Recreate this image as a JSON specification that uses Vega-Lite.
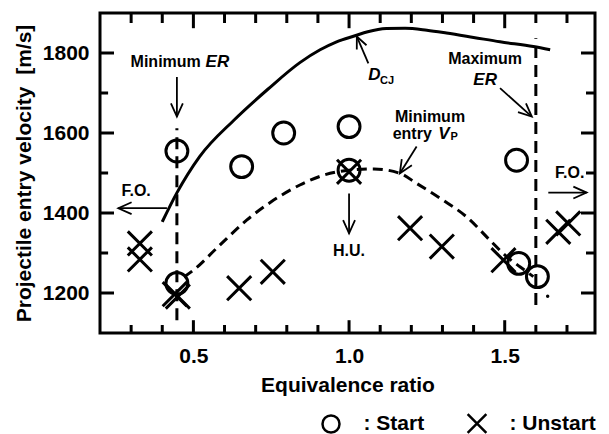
{
"$schema": "https://vega.github.io/schema/vega-lite/v6.json",
"width": 495,
"height": 320,
"autosize": {"type": "none"},
"padding": {"left": 100, "top": 13, "right": 14, "bottom": 101},
"background": "white",
"config": {
  "view": {"stroke": "black", "strokeWidth": 3},
  "font": "Liberation Sans",
  "axis": {"grid": false, "domain": false, "ticks": false, "tickSize": 0, "labelColor": "black", "titleColor": "black", "labelFont": "Liberation Sans", "titleFont": "Liberation Sans", "labelFontWeight": "bold", "titleFontWeight": "bold", "labelFontSize": 21, "titleFontSize": 21},
  "text": {"font": "Liberation Sans", "fontWeight": "bold", "color": "black"}
},
"datasets": {
  "pts": [
    {"er": 0.447, "v": 1555, "run": "Start"},
    {"er": 0.655, "v": 1516, "run": "Start"},
    {"er": 0.79, "v": 1600, "run": "Start"},
    {"er": 1.0, "v": 1616, "run": "Start"},
    {"er": 1.0, "v": 1507, "run": "Start"},
    {"er": 1.538, "v": 1532, "run": "Start"},
    {"er": 1.545, "v": 1274, "run": "Start"},
    {"er": 1.605, "v": 1241, "run": "Start"},
    {"er": 0.447, "v": 1224, "run": "Start"},
    {"er": 0.328, "v": 1324, "run": "Unstart"},
    {"er": 0.328, "v": 1284, "run": "Unstart"},
    {"er": 0.44, "v": 1197, "run": "Unstart"},
    {"er": 0.45, "v": 1191, "run": "Unstart"},
    {"er": 0.647, "v": 1212, "run": "Unstart"},
    {"er": 0.755, "v": 1253, "run": "Unstart"},
    {"er": 1.0, "v": 1503, "run": "Unstart"},
    {"er": 1.196, "v": 1362, "run": "Unstart"},
    {"er": 1.298, "v": 1316, "run": "Unstart"},
    {"er": 1.496, "v": 1282, "run": "Unstart"},
    {"er": 1.672, "v": 1353, "run": "Unstart"},
    {"er": 1.704, "v": 1374, "run": "Unstart"}
  ],
  "dcj": [
    {"er": 0.40, "v": 1378}, {"er": 0.446, "v": 1449}, {"er": 0.52, "v": 1541},
    {"er": 0.63, "v": 1632}, {"er": 0.74, "v": 1710}, {"er": 0.842, "v": 1776},
    {"er": 0.907, "v": 1808}, {"er": 0.96, "v": 1828}, {"er": 1.019, "v": 1843},
    {"er": 1.06, "v": 1853}, {"er": 1.12, "v": 1861}, {"er": 1.18, "v": 1862},
    {"er": 1.25, "v": 1857}, {"er": 1.313, "v": 1850}, {"er": 1.40, "v": 1839},
    {"er": 1.485, "v": 1828}, {"er": 1.592, "v": 1816}, {"er": 1.646, "v": 1808}
  ],
  "minvp": [
    {"er": 0.47, "v": 1240}, {"er": 0.5, "v": 1257}, {"er": 0.58, "v": 1316},
    {"er": 0.671, "v": 1382}, {"er": 0.75, "v": 1428}, {"er": 0.842, "v": 1470},
    {"er": 0.92, "v": 1495}, {"er": 1.0, "v": 1507}, {"er": 1.08, "v": 1510},
    {"er": 1.164, "v": 1499}, {"er": 1.217, "v": 1474}, {"er": 1.3, "v": 1433},
    {"er": 1.378, "v": 1390}, {"er": 1.45, "v": 1334}, {"er": 1.506, "v": 1291},
    {"er": 1.55, "v": 1265}, {"er": 1.592, "v": 1241}
  ],
  "limits": [
    {"er": 0.447, "v1": 1132, "v2": 1612},
    {"er": 1.6, "v1": 1170, "v2": 1837}
  ],
  "arrows": [
    {"name": "minER", "x1": 0.447, "v1": 1740, "x2": 0.447, "v2": 1641},
    {"name": "FOL", "x1": 0.415, "v1": 1412, "x2": 0.259, "v2": 1412},
    {"name": "DCJ", "x1": 1.062, "v1": 1774, "x2": 1.025, "v2": 1841},
    {"name": "maxER", "x1": 1.485, "v1": 1712, "x2": 1.587, "v2": 1641},
    {"name": "minVp", "x1": 1.217, "v1": 1566, "x2": 1.163, "v2": 1499},
    {"name": "HU", "x1": 1.0, "v1": 1449, "x2": 1.0, "v2": 1349},
    {"name": "FOR", "x1": 1.64, "v1": 1451, "x2": 1.763, "v2": 1451}
  ],
  "axisticks": [
    {"x1": 0.3, "x2": 0.3, "v1": 1102, "v2": 1120}, {"x1": 0.4, "x2": 0.4, "v1": 1102, "v2": 1120},
    {"x1": 0.5, "x2": 0.5, "v1": 1102, "v2": 1132}, {"x1": 0.6, "x2": 0.6, "v1": 1102, "v2": 1120},
    {"x1": 0.7, "x2": 0.7, "v1": 1102, "v2": 1120}, {"x1": 0.8, "x2": 0.8, "v1": 1102, "v2": 1120},
    {"x1": 0.9, "x2": 0.9, "v1": 1102, "v2": 1120}, {"x1": 1.0, "x2": 1.0, "v1": 1102, "v2": 1132},
    {"x1": 1.1, "x2": 1.1, "v1": 1102, "v2": 1120}, {"x1": 1.2, "x2": 1.2, "v1": 1102, "v2": 1120},
    {"x1": 1.3, "x2": 1.3, "v1": 1102, "v2": 1120}, {"x1": 1.4, "x2": 1.4, "v1": 1102, "v2": 1120},
    {"x1": 1.5, "x2": 1.5, "v1": 1102, "v2": 1132}, {"x1": 1.6, "x2": 1.6, "v1": 1102, "v2": 1120},
    {"x1": 1.7, "x2": 1.7, "v1": 1102, "v2": 1120},
    {"x1": 0.3, "x2": 0.3, "v1": 1898, "v2": 1875}, {"x1": 0.4, "x2": 0.4, "v1": 1898, "v2": 1875},
    {"x1": 0.5, "x2": 0.5, "v1": 1898, "v2": 1862}, {"x1": 0.6, "x2": 0.6, "v1": 1898, "v2": 1875},
    {"x1": 0.7, "x2": 0.7, "v1": 1898, "v2": 1875}, {"x1": 0.8, "x2": 0.8, "v1": 1898, "v2": 1875},
    {"x1": 0.9, "x2": 0.9, "v1": 1898, "v2": 1875}, {"x1": 1.0, "x2": 1.0, "v1": 1898, "v2": 1862},
    {"x1": 1.1, "x2": 1.1, "v1": 1898, "v2": 1875}, {"x1": 1.2, "x2": 1.2, "v1": 1898, "v2": 1875},
    {"x1": 1.3, "x2": 1.3, "v1": 1898, "v2": 1875}, {"x1": 1.4, "x2": 1.4, "v1": 1898, "v2": 1875},
    {"x1": 1.5, "x2": 1.5, "v1": 1898, "v2": 1862}, {"x1": 1.6, "x2": 1.6, "v1": 1898, "v2": 1875},
    {"x1": 1.7, "x2": 1.7, "v1": 1898, "v2": 1875},
    {"x1": 0.203, "x2": 0.245, "v1": 1200, "v2": 1200}, {"x1": 0.203, "x2": 0.226, "v1": 1300, "v2": 1300},
    {"x1": 0.203, "x2": 0.245, "v1": 1400, "v2": 1400}, {"x1": 0.203, "x2": 0.226, "v1": 1500, "v2": 1500},
    {"x1": 0.203, "x2": 0.245, "v1": 1600, "v2": 1600}, {"x1": 0.203, "x2": 0.226, "v1": 1700, "v2": 1700},
    {"x1": 0.203, "x2": 0.245, "v1": 1800, "v2": 1800},
    {"x1": 1.787, "x2": 1.745, "v1": 1200, "v2": 1200}, {"x1": 1.787, "x2": 1.761, "v1": 1300, "v2": 1300},
    {"x1": 1.787, "x2": 1.745, "v1": 1400, "v2": 1400}, {"x1": 1.787, "x2": 1.761, "v1": 1500, "v2": 1500},
    {"x1": 1.787, "x2": 1.745, "v1": 1600, "v2": 1600}, {"x1": 1.787, "x2": 1.761, "v1": 1700, "v2": 1700},
    {"x1": 1.787, "x2": 1.745, "v1": 1800, "v2": 1800}
  ],
  "notes": [
    {"er": 0.411, "v": 1777, "label": "Minimum"},
    {"er": 1.437, "v": 1785, "label": "Maximum"},
    {"er": 1.26, "v": 1640, "label": "Minimum"},
    {"er": 1.203, "v": 1597, "label": "entry"},
    {"er": 0.316, "v": 1455, "label": "F.O."},
    {"er": 1.709, "v": 1501, "label": "F.O."},
    {"er": 1.0, "v": 1306, "label": "H.U."}
  ],
  "italic": [
    {"er": 0.577, "v": 1777, "label": "ER"},
    {"er": 1.437, "v": 1732, "label": "ER"},
    {"er": 1.081, "v": 1746, "label": "D"},
    {"er": 1.305, "v": 1597, "label": "V"}
  ],
  "subs": [
    {"er": 1.122, "v": 1731, "label": "CJ"},
    {"er": 1.338, "v": 1591, "label": "P"}
  ],
  "dot": [{"er": 1.638, "v": 1192}]
},
"layer": [
  {
    "data": {"name": "dcj"},
    "mark": {"type": "line", "color": "black", "strokeWidth": 3, "interpolate": "monotone"},
    "encoding": {
      "x": {"field": "er", "type": "quantitative", "scale": {"domain": [0.2, 1.79], "nice": false, "zero": false},
            "axis": {"orient": "bottom", "values": [0.5, 1, 1.5], "format": ".1f", "ticks": false, "tickSize": 0, "labelPadding": 12, "title": "Equivalence ratio", "titlePadding": 8}},
      "y": {"field": "v", "type": "quantitative", "scale": {"domain": [1100, 1900], "nice": false, "zero": false},
            "axis": {"orient": "left", "values": [1200, 1400, 1600, 1800], "format": "d", "ticks": false, "tickSize": 0, "labelPadding": 11, "title": "Projectile entry velocity \u00a0[m/s]", "titlePadding": 8}}
    }
  },
  {
    "data": {"name": "minvp"},
    "mark": {"type": "line", "color": "black", "strokeWidth": 3, "strokeDash": [10, 6], "interpolate": "monotone"},
    "encoding": {
      "x": {"field": "er", "type": "quantitative", "scale": {"domain": [0.2, 1.79], "nice": false, "zero": false}, "axis": null},
      "y": {"field": "v", "type": "quantitative", "scale": {"domain": [1100, 1900], "nice": false, "zero": false}, "axis": null}
    }
  },
  {
    "data": {"name": "limits"},
    "mark": {"type": "rule", "color": "black", "strokeWidth": 3, "strokeDash": [12, 7]},
    "encoding": {
      "x": {"field": "er", "type": "quantitative", "scale": {"domain": [0.2, 1.79], "nice": false, "zero": false}, "axis": null},
      "y": {"field": "v1", "type": "quantitative", "scale": {"domain": [1100, 1900], "nice": false, "zero": false}, "axis": null},
      "y2": {"field": "v2"}
    }
  },
  {
    "data": {"name": "pts"},
    "mark": {"type": "point", "filled": false, "color": "black", "strokeWidth": 3, "size": 480, "opacity": 1},
    "encoding": {
      "x": {"field": "er", "type": "quantitative", "scale": {"domain": [0.2, 1.79], "nice": false, "zero": false}, "axis": null},
      "y": {"field": "v", "type": "quantitative", "scale": {"domain": [1100, 1900], "nice": false, "zero": false}, "axis": null},
      "shape": {"field": "run", "type": "nominal",
                "scale": {"domain": ["Start", "Unstart"], "range": ["circle", "M-1.1,-1.1L1.1,1.1M-1.1,1.1L1.1,-1.1"]},
                "legend": {"orient": "none", "legendX": 220.5, "legendY": 400, "direction": "horizontal", "title": null,
                           "labelExpr": "': ' + datum.label", "labelFont": "Liberation Sans", "labelFontWeight": "bold", "labelFontSize": 21, "labelColor": "black",
                           "symbolSize": 289, "symbolStrokeWidth": 2.5, "symbolStrokeColor": "black", "symbolFillColor": "transparent",
                           "labelOffset": 22, "columnPadding": 38}}
    }
  },
  {
    "data": {"name": "arrows"},
    "mark": {"type": "rule", "color": "black", "strokeWidth": 1.8},
    "encoding": {
      "x": {"field": "x1", "type": "quantitative", "scale": {"domain": [0.2, 1.79], "nice": false, "zero": false}, "axis": null},
      "y": {"field": "v1", "type": "quantitative", "scale": {"domain": [1100, 1900], "nice": false, "zero": false}, "axis": null},
      "x2": {"field": "x2"},
      "y2": {"field": "v2"}
    }
  },
  {
    "data": {"name": "axisticks"},
    "mark": {"type": "rule", "color": "#000000", "strokeWidth": 3, "opacity": 1},
    "encoding": {
      "x": {"field": "x1", "type": "quantitative", "scale": {"domain": [0.2, 1.79], "nice": false, "zero": false}, "axis": null},
      "y": {"field": "v1", "type": "quantitative", "scale": {"domain": [1100, 1900], "nice": false, "zero": false}, "axis": null},
      "x2": {"field": "x2"},
      "y2": {"field": "v2"}
    }
  },
  {
    "data": {"name": "arrows"},
    "transform": [{"filter": "datum.name == 'minER' || datum.name == 'HU'"}],
    "mark": {"type": "point", "filled": false, "color": "black", "strokeWidth": 1.8, "size": 700, "opacity": 1, "shape": "M-0.45,1L0,0L0.45,1", "angle": 180},
    "encoding": {
      "x": {"field": "x2", "type": "quantitative", "scale": {"domain": [0.2, 1.79], "nice": false, "zero": false}, "axis": null},
      "y": {"field": "v2", "type": "quantitative", "scale": {"domain": [1100, 1900], "nice": false, "zero": false}, "axis": null}
    }
  },
  {
    "data": {"name": "arrows"},
    "transform": [{"filter": "datum.name == 'FOL'"}],
    "mark": {"type": "point", "filled": false, "color": "black", "strokeWidth": 1.8, "size": 700, "opacity": 1, "shape": "M-0.45,1L0,0L0.45,1", "angle": 270},
    "encoding": {
      "x": {"field": "x2", "type": "quantitative", "scale": {"domain": [0.2, 1.79], "nice": false, "zero": false}, "axis": null},
      "y": {"field": "v2", "type": "quantitative", "scale": {"domain": [1100, 1900], "nice": false, "zero": false}, "axis": null}
    }
  },
  {
    "data": {"name": "arrows"},
    "transform": [{"filter": "datum.name == 'FOR'"}],
    "mark": {"type": "point", "filled": false, "color": "black", "strokeWidth": 1.8, "size": 700, "opacity": 1, "shape": "M-0.45,1L0,0L0.45,1", "angle": 90},
    "encoding": {
      "x": {"field": "x2", "type": "quantitative", "scale": {"domain": [0.2, 1.79], "nice": false, "zero": false}, "axis": null},
      "y": {"field": "v2", "type": "quantitative", "scale": {"domain": [1100, 1900], "nice": false, "zero": false}, "axis": null}
    }
  },
  {
    "data": {"name": "arrows"},
    "transform": [{"filter": "datum.name == 'DCJ'"}],
    "mark": {"type": "point", "filled": false, "color": "black", "strokeWidth": 1.8, "size": 560, "opacity": 1, "shape": "M-0.45,1L0,0L0.45,1", "angle": 336},
    "encoding": {
      "x": {"field": "x2", "type": "quantitative", "scale": {"domain": [0.2, 1.79], "nice": false, "zero": false}, "axis": null},
      "y": {"field": "v2", "type": "quantitative", "scale": {"domain": [1100, 1900], "nice": false, "zero": false}, "axis": null}
    }
  },
  {
    "data": {"name": "arrows"},
    "transform": [{"filter": "datum.name == 'maxER'"}],
    "mark": {"type": "point", "filled": false, "color": "black", "strokeWidth": 1.8, "size": 700, "opacity": 1, "shape": "M-0.45,1L0,0L0.45,1", "angle": 132},
    "encoding": {
      "x": {"field": "x2", "type": "quantitative", "scale": {"domain": [0.2, 1.79], "nice": false, "zero": false}, "axis": null},
      "y": {"field": "v2", "type": "quantitative", "scale": {"domain": [1100, 1900], "nice": false, "zero": false}, "axis": null}
    }
  },
  {
    "data": {"name": "arrows"},
    "transform": [{"filter": "datum.name == 'minVp'"}],
    "mark": {"type": "point", "filled": false, "color": "black", "strokeWidth": 1.8, "size": 700, "opacity": 1, "shape": "M-0.45,1L0,0L0.45,1", "angle": 212},
    "encoding": {
      "x": {"field": "x2", "type": "quantitative", "scale": {"domain": [0.2, 1.79], "nice": false, "zero": false}, "axis": null},
      "y": {"field": "v2", "type": "quantitative", "scale": {"domain": [1100, 1900], "nice": false, "zero": false}, "axis": null}
    }
  },
  {
    "data": {"name": "notes"},
    "mark": {"type": "text", "fontSize": 16, "fontWeight": "bold", "font": "Liberation Sans", "align": "center", "baseline": "middle", "color": "black"},
    "encoding": {
      "x": {"field": "er", "type": "quantitative", "scale": {"domain": [0.2, 1.79], "nice": false, "zero": false}, "axis": null},
      "y": {"field": "v", "type": "quantitative", "scale": {"domain": [1100, 1900], "nice": false, "zero": false}, "axis": null},
      "text": {"field": "label"}
    }
  },
  {
    "data": {"name": "italic"},
    "mark": {"type": "text", "fontSize": 17, "fontWeight": "bold", "fontStyle": "italic", "font": "Liberation Sans", "align": "center", "baseline": "middle", "color": "black"},
    "encoding": {
      "x": {"field": "er", "type": "quantitative", "scale": {"domain": [0.2, 1.79], "nice": false, "zero": false}, "axis": null},
      "y": {"field": "v", "type": "quantitative", "scale": {"domain": [1100, 1900], "nice": false, "zero": false}, "axis": null},
      "text": {"field": "label"}
    }
  },
  {
    "data": {"name": "subs"},
    "mark": {"type": "text", "fontSize": 11, "fontWeight": "bold", "font": "Liberation Sans", "align": "center", "baseline": "middle", "color": "black"},
    "encoding": {
      "x": {"field": "er", "type": "quantitative", "scale": {"domain": [0.2, 1.79], "nice": false, "zero": false}, "axis": null},
      "y": {"field": "v", "type": "quantitative", "scale": {"domain": [1100, 1900], "nice": false, "zero": false}, "axis": null},
      "text": {"field": "label"}
    }
  },
  {
    "data": {"name": "dot"},
    "mark": {"type": "point", "filled": true, "color": "black", "size": 12, "opacity": 1},
    "encoding": {
      "x": {"field": "er", "type": "quantitative", "scale": {"domain": [0.2, 1.79], "nice": false, "zero": false}, "axis": null},
      "y": {"field": "v", "type": "quantitative", "scale": {"domain": [1100, 1900], "nice": false, "zero": false}, "axis": null}
    }
  }
],
"resolve": {"axis": {"x": "independent", "y": "independent"}}
}
